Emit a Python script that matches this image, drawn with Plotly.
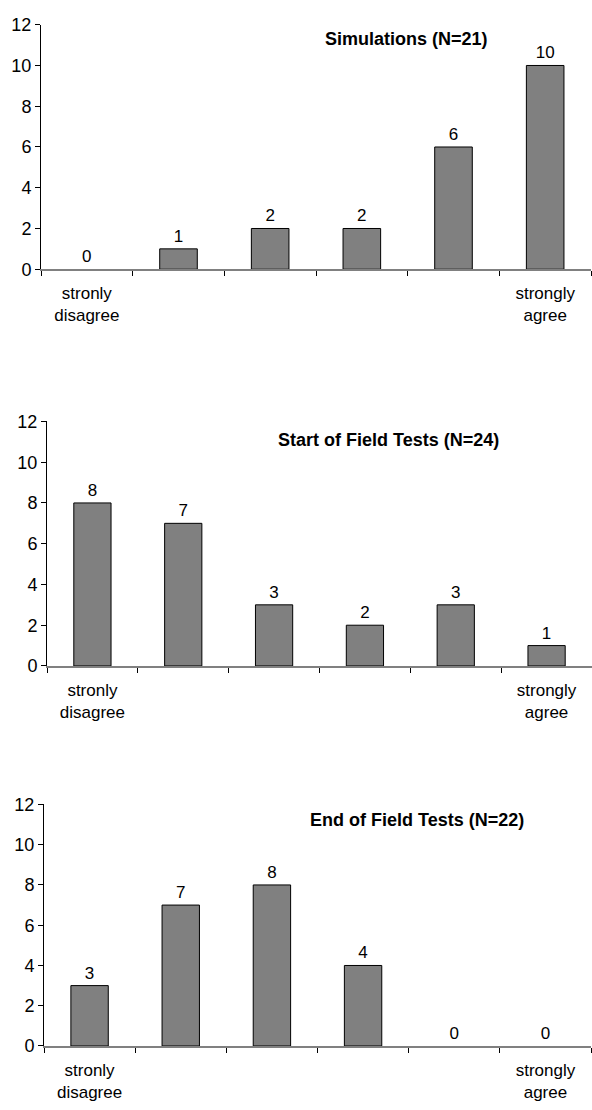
import plotly.graph_objects as go

categories = [1, 2, 3, 4, 5, 6]
end_labels = ["stronly<br>disagree", "", "", "", "", "strongly<br>agree"]
titles = ["Simulations (N=21)", "Start of Field Tests (N=24)", "End of Field Tests (N=22)"]
sim_values = [0, 1, 2, 2, 6, 10]
start_values = [8, 7, 3, 2, 3, 1]
end_values = [3, 7, 8, 4, 0, 0]
y_ticks = [0, 2, 4, 6, 8, 10, 12]

W, H = 592, 1110
FONT = "Arial, Liberation Sans, sans-serif"

# panel geometry in pixels: (x_left, x_right, y_top, y_bottom), title center (x, y)
panels = [
    (41, 591, 15, 264, 406, 30),
    (47, 592, 419, 668, 388, 438),
    (44, 591, 809, 1055, 417, 825),
]
series = [sim_values, start_values, end_values]

fig = go.Figure()
for i, (vals, (xl, xr, yt, yb, tx, ty)) in enumerate(zip(series, panels)):
    n = i + 1
    xa = "x" if n == 1 else f"x{n}"
    ya = "y" if n == 1 else f"y{n}"
    fig.add_trace(go.Bar(
        x=categories, y=vals, xaxis=xa, yaxis=ya,
        width=0.41,
        marker=dict(color="#808080",
                    line=dict(color="#000000", width=[1 if v > 0 else 0 for v in vals])),
        text=[str(v) for v in vals], textposition="outside",
        textfont=dict(family=FONT, size=17, color="#000000"),
        cliponaxis=False, showlegend=False,
    ))
    xkey = "xaxis" if n == 1 else f"xaxis{n}"
    ykey = "yaxis" if n == 1 else f"yaxis{n}"
    fig.update_layout(**{
        xkey: dict(
            domain=[xl / W, xr / W], anchor=ya,
            range=[0.5, 6.5], tickmode="array", tickvals=categories, ticktext=end_labels,
            ticks="", showgrid=False, zeroline=False,
            showline=True, linecolor="#808080", linewidth=1.5,
            tickfont=dict(family=FONT, size=17, color="#000000"),
            ticklabelstandoff=8,
            minor=dict(tickmode="linear", tick0=0.5, dtick=1, ticks="outside",
                       ticklen=5, tickcolor="#000000", tickwidth=1, showgrid=False),
        ),
        ykey: dict(
            domain=[(H - yb) / H, (H - yt) / H], anchor=xa,
            range=[0, 12], tickmode="array", tickvals=y_ticks,
            ticks="outside", ticklen=5, tickcolor="#000000", tickwidth=1,
            showgrid=False, zeroline=False,
            showline=True, linecolor="#000000", linewidth=1,
            tickfont=dict(family=FONT, size=18, color="#000000"),
        ),
    })
    fig.add_annotation(
        text=f"<b>{titles[i]}</b>", xref="paper", yref="paper",
        x=tx / W, y=(H - ty) / H, xanchor="center", yanchor="middle",
        showarrow=False, font=dict(family=FONT, size=18, color="#000000"),
    )

fig.update_layout(
    width=W, height=H, margin=dict(l=0, r=0, t=0, b=0),
    paper_bgcolor="#ffffff", plot_bgcolor="#ffffff",
    bargap=0.59,
)
fig.write_html("out.html")
